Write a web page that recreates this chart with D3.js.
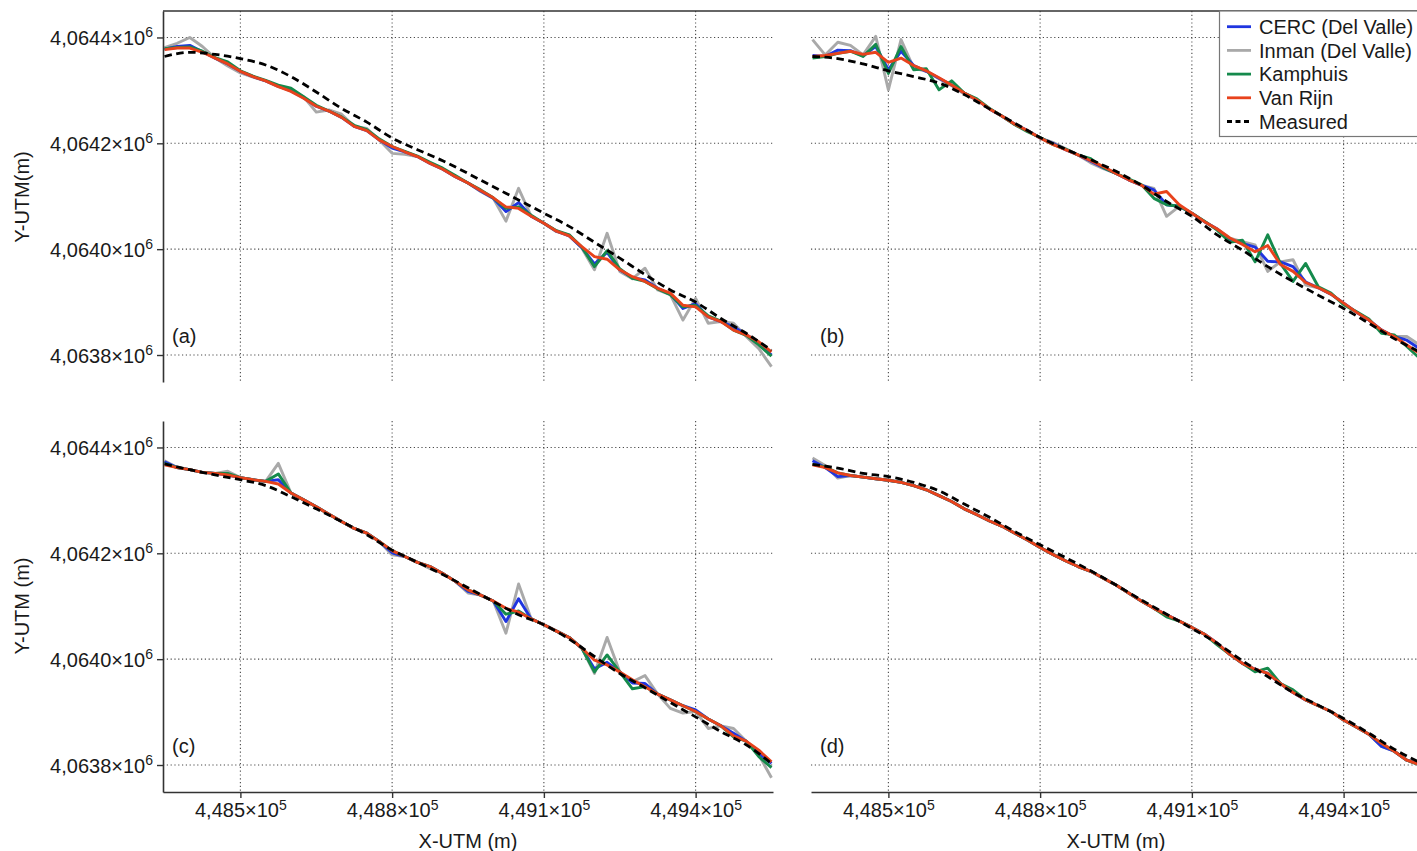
<!DOCTYPE html>
<html><head><meta charset="utf-8">
<script src="https://cdn.jsdelivr.net/npm/d3@7"></script>
<style>
body{margin:0;background:#fff;overflow:hidden;}
text{font-family:"Liberation Sans",Arial,Helvetica,sans-serif;fill:#1a1a1a;}
</style></head><body>
<svg id="chart" width="1417" height="851"></svg>
<script>
// ---------- data ----------
const xModel = [448350,448375,448400,448425,448450,448475,448500,448525,448550,448575,448600,448625,448650,448675,448700,448725,448750,448775,448800,448825,448850,448875,448900,448925,448950,448975,449000,449025,449050,449075,449100,449125,449150,449175,449200,449225,449250,449275,449300,449325,449350,449375,449400,449425,449450,449475,449500,449525,449550];
const xMeasured = [448350,448400,448450,448500,448550,448600,448650,448700,448750,448800,448850,448900,448950,449000,449050,449100,449150,449200,449250,449300,449350,449400,449450,449500,449550];

// panel (a)
const cercA = [4064378,4064383,4064385,4064373,4064361,4064350,4064336,4064326,4064318,4064308,4064299,4064286,4064270,4064261,4064249,4064232,4064224,4064206,4064191,4064184,4064175,4064162,4064151,4064137,4064125,4064110,4064096,4064071,4064088,4064062,4064049,4064034,4064025,4064003,4063972,4063994,4063961,4063946,4063942,4063926,4063915,4063888,4063897,4063872,4063863,4063853,4063839,4063822,4063800];
const inmanA = [4064381,4064389,4064400,4064383,4064361,4064346,4064333,4064325,4064318,4064307,4064301,4064288,4064259,4064263,4064255,4064232,4064228,4064206,4064181,4064179,4064175,4064163,4064152,4064137,4064125,4064109,4064096,4064053,4064115,4064062,4064049,4064033,4064027,4064002,4063961,4064030,4063958,4063944,4063964,4063923,4063914,4063866,4063907,4063860,4063863,4063860,4063835,4063812,4063778];
const kamphuisA = [4064379,4064381,4064382,4064374,4064362,4064354,4064337,4064327,4064319,4064310,4064304,4064288,4064272,4064261,4064250,4064234,4064226,4064208,4064194,4064185,4064176,4064164,4064153,4064139,4064125,4064112,4064097,4064077,4064080,4064064,4064049,4064035,4064027,4064004,4063967,4063997,4063963,4063945,4063939,4063925,4063914,4063891,4063894,4063874,4063864,4063847,4063837,4063819,4063798];
const vanRijnA = [4064377,4064380,4064380,4064372,4064361,4064350,4064336,4064326,4064318,4064307,4064298,4064285,4064270,4064261,4064249,4064232,4064224,4064206,4064194,4064184,4064175,4064162,4064151,4064137,4064125,4064111,4064097,4064080,4064077,4064062,4064049,4064034,4064025,4064005,4063986,4063981,4063961,4063948,4063939,4063926,4063917,4063894,4063891,4063872,4063863,4063847,4063838,4063825,4063806];
const measuredA = [4064364,4064372,4064368,4064360,4064348,4064326,4064297,4064266,4064240,4064210,4064188,4064167,4064143,4064118,4064093,4064068,4064043,4064013,4063983,4063952,4063923,4063900,4063869,4063841,4063809];

// panel (b)
const cercB = [4064366,4064364,4064376,4064375,4064365,4064383,4064339,4064374,4064347,4064336,4064323,4064310,4064295,4064282,4064265,4064251,4064236,4064224,4064210,4064200,4064188,4064178,4064166,4064154,4064143,4064131,4064121,4064112,4064084,4064081,4064068,4064052,4064038,4064018,4064011,4064004,4063977,4063976,4063967,4063938,4063927,4063915,4063898,4063881,4063866,4063847,4063835,4063828,4063812];
const inmanB = [4064396,4064367,4064391,4064385,4064367,4064402,4064301,4064396,4064342,4064336,4064322,4064309,4064293,4064282,4064265,4064251,4064236,4064224,4064210,4064202,4064190,4064178,4064163,4064152,4064143,4064131,4064121,4064115,4064062,4064081,4064068,4064052,4064038,4064021,4064014,4064008,4063958,4063976,4063980,4063932,4063927,4063915,4063898,4063881,4063866,4063847,4063835,4063835,4063819];
const kamphuisB = [4064361,4064364,4064370,4064374,4064364,4064387,4064332,4064383,4064339,4064341,4064301,4064318,4064295,4064284,4064266,4064251,4064235,4064222,4064211,4064198,4064189,4064178,4064171,4064154,4064143,4064133,4064122,4064096,4064084,4064081,4064068,4064053,4064036,4064013,4064017,4063976,4064027,4063973,4063939,4063973,4063929,4063917,4063895,4063882,4063868,4063841,4063838,4063816,4063794];
const vanRijnB = [4064364,4064366,4064370,4064374,4064368,4064372,4064353,4064361,4064347,4064337,4064324,4064310,4064295,4064282,4064265,4064251,4064236,4064224,4064210,4064198,4064188,4064178,4064167,4064156,4064143,4064131,4064121,4064104,4064109,4064084,4064068,4064052,4064038,4064021,4064009,4063995,4064007,4063971,4063958,4063937,4063927,4063915,4063898,4063881,4063866,4063847,4063835,4063819,4063803];
const measuredB = [4064364,4064360,4064350,4064337,4064326,4064314,4064292,4064265,4064238,4064211,4064189,4064169,4064147,4064121,4064090,4064062,4064027,4063998,4063967,4063939,4063913,4063888,4063860,4063831,4063806];

// panel (c)
const cercC = [4064373,4064362,4064358,4064353,4064351,4064348,4064343,4064339,4064336,4064339,4064314,4064301,4064288,4064274,4064260,4064247,4064238,4064222,4064201,4064194,4064183,4064175,4064162,4064147,4064128,4064121,4064110,4064071,4064114,4064076,4064065,4064053,4064041,4064021,4063982,4063994,4063976,4063955,4063954,4063934,4063923,4063912,4063904,4063887,4063874,4063860,4063845,4063822,4063803];
const inmanC = [4064375,4064362,4064358,4064353,4064351,4064355,4064343,4064339,4064336,4064370,4064314,4064301,4064288,4064274,4064260,4064247,4064238,4064222,4064197,4064194,4064183,4064171,4064162,4064147,4064125,4064121,4064110,4064049,4064142,4064076,4064065,4064053,4064041,4064021,4063973,4064041,4063976,4063957,4063969,4063934,4063907,4063898,4063901,4063869,4063874,4063869,4063845,4063819,4063776];
const kamphuisC = [4064370,4064362,4064358,4064353,4064351,4064351,4064343,4064339,4064336,4064350,4064314,4064301,4064288,4064274,4064260,4064247,4064238,4064222,4064205,4064194,4064183,4064175,4064162,4064147,4064131,4064121,4064110,4064085,4064091,4064076,4064065,4064053,4064041,4064021,4063976,4064008,4063976,4063944,4063948,4063934,4063923,4063912,4063901,4063887,4063874,4063853,4063845,4063816,4063795];
const vanRijnC = [4064367,4064362,4064358,4064353,4064351,4064348,4064343,4064339,4064336,4064331,4064314,4064301,4064288,4064274,4064260,4064247,4064238,4064222,4064205,4064194,4064183,4064175,4064162,4064147,4064131,4064121,4064110,4064096,4064089,4064076,4064065,4064053,4064041,4064021,4063998,4063989,4063976,4063961,4063948,4063934,4063923,4063912,4063901,4063887,4063874,4063855,4063845,4063828,4063806];
const measuredC = [4064369,4064358,4064348,4064339,4064328,4064307,4064284,4064260,4064235,4064206,4064183,4064160,4064135,4064109,4064084,4064065,4064038,4064005,4063973,4063946,4063918,4063891,4063863,4063838,4063803];

// panel (d)
const cercD = [4064375,4064362,4064345,4064347,4064344,4064341,4064338,4064334,4064328,4064320,4064309,4064298,4064284,4064273,4064261,4064251,4064238,4064225,4064211,4064198,4064186,4064175,4064166,4064153,4064140,4064125,4064110,4064096,4064084,4064072,4064060,4064047,4064030,4064009,4063992,4063981,4063973,4063954,4063937,4063923,4063912,4063901,4063885,4063872,4063858,4063835,4063826,4063809,4063801];
const inmanD = [4064380,4064366,4064342,4064347,4064344,4064341,4064338,4064334,4064328,4064320,4064309,4064298,4064284,4064273,4064261,4064251,4064238,4064225,4064211,4064198,4064186,4064175,4064166,4064153,4064140,4064125,4064110,4064096,4064084,4064072,4064060,4064047,4064030,4064009,4063992,4063981,4063973,4063954,4063937,4063923,4063912,4063901,4063885,4063872,4063858,4063835,4063826,4063809,4063801];
const kamphuisD = [4064368,4064363,4064352,4064347,4064344,4064341,4064338,4064334,4064328,4064320,4064309,4064298,4064284,4064273,4064261,4064251,4064238,4064225,4064211,4064198,4064186,4064175,4064166,4064153,4064140,4064125,4064110,4064096,4064080,4064072,4064060,4064047,4064027,4064009,4063992,4063976,4063983,4063954,4063942,4063923,4063912,4063901,4063885,4063872,4063858,4063841,4063826,4063809,4063800];
const vanRijnD = [4064367,4064362,4064352,4064347,4064344,4064341,4064338,4064334,4064328,4064320,4064309,4064298,4064284,4064273,4064261,4064251,4064238,4064225,4064211,4064198,4064186,4064175,4064166,4064153,4064140,4064125,4064110,4064096,4064084,4064072,4064060,4064047,4064030,4064009,4063992,4063981,4063973,4063954,4063937,4063923,4063912,4063901,4063885,4063872,4063858,4063841,4063826,4063809,4063801];
const measuredD = [4064368,4064361,4064351,4064345,4064334,4064318,4064293,4064268,4064241,4064216,4064192,4064167,4064140,4064112,4064085,4064058,4064030,4063997,4063967,4063937,4063913,4063888,4063860,4063830,4063805];

const seriesNames = ["CERC (Del Valle)","Inman (Del Valle)","Kamphuis","Van Rijn","Measured"];
const seriesColors = ["#1f35e0","#a9a9a9","#158a4c","#e8421c","#000000"];
const xTicks = [448500,448800,449100,449400];
const yTicks = [4063800,4064000,4064200,4064400];
const panelLabels = ["(a)","(b)","(c)","(d)"];

// ---------- layout ----------
const svg = d3.select("#chart");
const xDomain = [448347,449553];
const yDomain = [4063749,4064450];
const panels = [
  {lab:panelLabels[0], l:163, r:773, t:11, b:382, yAxis:true,  xAxis:false, cerc:cercA, inman:inmanA, kamp:kamphuisA, vr:vanRijnA, meas:measuredA},
  {lab:panelLabels[1], l:811, r:1421,t:11, b:382, yAxis:false, xAxis:false, cerc:cercB, inman:inmanB, kamp:kamphuisB, vr:vanRijnB, meas:measuredB},
  {lab:panelLabels[2], l:163, r:773, t:421,b:792, yAxis:true,  xAxis:true,  cerc:cercC, inman:inmanC, kamp:kamphuisC, vr:vanRijnC, meas:measuredC},
  {lab:panelLabels[3], l:811, r:1421,t:421,b:792, yAxis:false, xAxis:true,  cerc:cercD, inman:inmanD, kamp:kamphuisD, vr:vanRijnD, meas:measuredD}
];
const FS = 20;
const SUP = 14;
const fmtY = v => d3.format(".4f")(v/1e6).replace(".", ",");
const fmtX = v => d3.format(".3f")(v/1e5).replace(".", ",");

const defs = svg.append("defs");
panels.forEach((p,i)=>{
  const x = d3.scaleLinear().domain(xDomain).range([p.l,p.r]);
  const y = d3.scaleLinear().domain(yDomain).range([p.b,p.t]);
  const g = svg.append("g");
  // grid
  g.selectAll("line.vg").data(xTicks).join("line")
    .attr("x1",d=>x(d)).attr("x2",d=>x(d)).attr("y1",p.t).attr("y2",p.b)
    .attr("stroke","#4a4a4a").attr("stroke-width",1.1).attr("stroke-dasharray","1.2,2.6");
  g.selectAll("line.hg").data(yTicks).join("line")
    .attr("x1",p.l).attr("x2",p.r).attr("y1",d=>y(d)).attr("y2",d=>y(d))
    .attr("stroke","#4a4a4a").attr("stroke-width",1.1).attr("stroke-dasharray","1.2,2.6");
  // clip
  defs.append("clipPath").attr("id","clip"+i).append("rect")
    .attr("x",p.l).attr("y",p.t).attr("width",p.r-p.l).attr("height",p.b-p.t);
  const lg = g.append("g").attr("clip-path",`url(#clip${i})`);
  const line = d3.line().x((d,k)=>x(xModel[k])).y(d=>y(d));
  const mline = d3.line().x((d,k)=>x(xMeasured[k])).y(d=>y(d)).curve(d3.curveMonotoneX);
  [[p.inman,1],[p.cerc,0],[p.kamp,2],[p.vr,3]].forEach(([arr,c])=>{
    lg.append("path").attr("d",line(arr)).attr("fill","none")
      .attr("stroke",seriesColors[c]).attr("stroke-width",2.9).attr("stroke-linejoin","round");
  });
  lg.append("path").attr("d",mline(p.meas)).attr("fill","none")
    .attr("stroke",seriesColors[4]).attr("stroke-width",2.8).attr("stroke-dasharray","7.5,4.5");
  // axes
  if(p.yAxis){
    const ax = g.append("g").attr("transform",`translate(${p.l},0)`)
      .call(d3.axisLeft(y).tickValues(yTicks).tickSize(6).tickSizeOuter(0).tickPadding(4));
    ax.select(".domain").attr("stroke","#333").attr("stroke-width",1.6);
    ax.selectAll(".tick line").attr("stroke","#333").attr("stroke-width",1.4);
    ax.selectAll(".tick text").each(function(d){
      const t = d3.select(this).text(null).attr("font-size",FS).attr("font-family",null).attr("dy","0.36em");
      t.append("tspan").text(fmtY(d)+"×10");
      t.append("tspan").text("6").attr("font-size",SUP).attr("dy","-0.55em");
    });
  }
  if(p.xAxis){
    const ax = g.append("g").attr("transform",`translate(0,${p.b})`)
      .call(d3.axisBottom(x).tickValues(xTicks).tickSize(6).tickSizeOuter(0).tickPadding(5));
    ax.select(".domain").attr("stroke","#333").attr("stroke-width",1.6);
    ax.selectAll(".tick line").attr("stroke","#333").attr("stroke-width",1.4);
    ax.selectAll(".tick text").each(function(d){
      const t = d3.select(this).text(null).attr("font-size",FS).attr("font-family",null);
      t.append("tspan").text(fmtX(d)+"×10");
      t.append("tspan").text("5").attr("font-size",SUP).attr("dy","-0.55em");
    });
    g.append("text").attr("x",(p.l+p.r)/2).attr("y",848).attr("text-anchor","middle")
      .attr("font-size",FS).text("X-UTM (m)");
  }
  g.append("text").attr("x",p.l+9).attr("y",p.b-39).attr("font-size",FS).text(p.lab);
});

// top frame line
svg.append("line").attr("x1",163).attr("x2",1417).attr("y1",11).attr("y2",11)
  .attr("stroke","#333").attr("stroke-width",1.6);

// y titles
svg.append("text").attr("transform","translate(29,197) rotate(-90)").attr("text-anchor","middle")
  .attr("font-size",FS).text("Y-UTM(m)");
svg.append("text").attr("transform","translate(29,606) rotate(-90)").attr("text-anchor","middle")
  .attr("font-size",FS).text("Y-UTM (m)");

// legend
const leg = svg.append("g");
leg.append("rect").attr("x",1219.5).attr("y",11).attr("width",230).attr("height",125.5)
  .attr("fill","#fff").attr("stroke","#777").attr("stroke-width",1.2);
seriesNames.forEach((n,k)=>{
  const yy = 26.7 + k*23.7;
  leg.append("line").attr("x1",1227).attr("x2",1251).attr("y1",yy).attr("y2",yy)
    .attr("stroke",seriesColors[k]).attr("stroke-width",2.8)
    .attr("stroke-dasharray",k===4?"5,3.5":null);
  leg.append("text").attr("x",1259).attr("y",yy).attr("dy","0.36em").attr("font-size",FS).text(n);
});
</script>
</body></html>
